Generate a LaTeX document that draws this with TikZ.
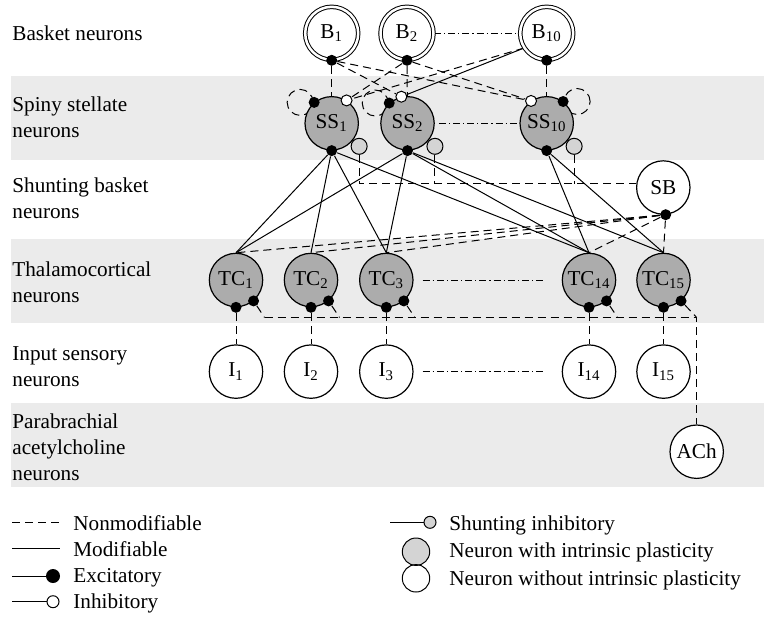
\documentclass[tikz,border=0pt]{standalone}
\usepackage{fontspec}
\setmainfont{Liberation Serif}
\usetikzlibrary{calc}
\pgfdeclarelayer{back}
\pgfdeclarelayer{mid}
\pgfsetlayers{back,mid,main}
\definecolor{bandgray}{RGB}{235,235,235}
\definecolor{cellgray}{RGB}{172,172,172}
\definecolor{shuntgray}{RGB}{212,212,212}
\tikzset{
  neuron/.style={circle,draw,line width=0.6pt,fill=white,minimum size=26.7pt,inner sep=0pt},
  plastic/.style={neuron,fill=cellgray},
  basket/.style={neuron,double,double distance=1.25pt,line width=0.5pt,minimum size=26.5pt},
  exc/.style={circle,fill=black,minimum size=5.5pt,inner sep=0pt},
  inh/.style={circle,draw,fill=white,line width=0.5pt,minimum size=5.5pt,inner sep=0pt},
  shunt/.style={circle,draw,fill=shuntgray,line width=0.5pt,minimum size=8pt,inner sep=0pt},
  nonmod/.style={line width=0.5pt,dash pattern=on 4pt off 2.5pt},
  mod/.style={line width=0.5pt},
  dotdash/.style={line width=0.5pt,dash pattern=on 3.5pt off 1.5pt on 0.6pt off 1.5pt},
  lbl/.style={anchor=base west,align=left,inner sep=0pt},
}

\begin{document}
\begin{tikzpicture}[x=0.5pt,y=-0.5pt,font=\fontsize{10.6}{12.8}\selectfont]
    \useasboundingbox (0,0) rectangle (764,618);
    \begin{pgfonlayer}{back}
    \fill[bandgray] (11,76) rectangle (764,160);
    \fill[bandgray] (11,239) rectangle (764,323);
    \fill[bandgray] (11,403) rectangle (764,487);
    \end{pgfonlayer}

    % row labels (base = last line)
    \node[lbl] (lbB) at (12,40.5) {Basket neurons};
    \node[lbl] (lbSS) at (12,137) {Spiny stellate\\neurons};
    \node[lbl] (lbSB) at (12,218.5) {Shunting basket\\neurons};
    \node[lbl] (lbTC) at (12,302.5) {Thalamocortical\\neurons};
    \node[lbl] (lbI) at (12,386.5) {Input sensory\\neurons};
    \node[lbl] (lbACh) at (12,480) {Parabrachial\\acetylcholine\\neurons};

    % neurons
    \node[basket] (b1) at (331.7,33.3) {B\textsubscript{1}};
    \node[basket] (b2) at (407,33.3) {B\textsubscript{2}};
    \node[basket] (b10) at (546.7,33.3) {B\textsubscript{10}};
    \node[plastic] (ss1) at (331.7,123.3) {SS\textsubscript{1}};
    \node[plastic] (ss2) at (407.5,123.3) {SS\textsubscript{2}};
    \node[plastic] (ss10) at (546.7,123.3) {SS\textsubscript{10}};
    \node[neuron] (sb) at (663.3,187.5) {SB};
    \node[plastic] (tc1) at (236,280) {TC\textsubscript{1}};
    \node[plastic] (tc2) at (311,280) {TC\textsubscript{2}};
    \node[plastic] (tc3) at (386.3,280) {TC\textsubscript{3}};
    \node[plastic] (tc14) at (589,280) {TC\textsubscript{14}};
    \node[plastic] (tc15) at (663.5,280) {TC\textsubscript{15}};
    \node[neuron] (i1) at (236,371.6) {I\textsubscript{1}};
    \node[neuron] (i2) at (311,371.6) {I\textsubscript{2}};
    \node[neuron] (i3) at (386.3,371.6) {I\textsubscript{3}};
    \node[neuron] (i14) at (589,371.6) {I\textsubscript{14}};
    \node[neuron] (i15) at (663.5,371.6) {I\textsubscript{15}};
    \node[neuron] (ach) at (696.7,451.7) {ACh};

    % synapses
    \node[exc] (b1e) at (b1.south) {};
    \node[exc] (b2e) at (b2.south) {};
    \node[exc] (b10e) at (b10.south) {};
    \node[exc] (ss1e) at (ss1.130) {};
    \node[inh] (ss1i) at (ss1.57) {};
    \node[exc] (ss2e) at (ss2.132) {};
    \node[inh] (ss2i) at (ss2.103) {};
    \node[inh] (ss10i) at (ss10.125) {};
    \node[exc] (ss10e) at (ss10.53) {};
    \node[exc] (ss1s) at (ss1.south) {};
    \node[exc] (ss2s) at (ss2.south) {};
    \node[exc] (ss10s) at (ss10.south) {};
    \node[shunt,anchor=140] (ss1g) at (ss1.-40) {};
    \node[shunt,anchor=140] (ss2g) at (ss2.-40) {};
    \node[shunt,anchor=140] (ss10g) at (ss10.-40) {};
    \node[exc] (sbe) at (sb.-85) {};
    \node[exc] (tc1s) at (tc1.south) {};
    \node[exc] (tc1w) at (tc1.-50) {};
    \node[exc] (tc2s) at (tc2.south) {};
    \node[exc] (tc2w) at (tc2.-50) {};
    \node[exc] (tc3s) at (tc3.south) {};
    \node[exc] (tc3w) at (tc3.-50) {};
    \node[exc] (tc14s) at (tc14.south) {};
    \node[exc] (tc14w) at (tc14.-50) {};
    \node[exc] (tc15s) at (tc15.south) {};
    \node[exc] (tc15w) at (tc15.-50) {};

    \begin{pgfonlayer}{mid}
    % basket -> spiny stellate
    \draw[nonmod] (b1e) -- (ss1);
    \draw[nonmod] (b1e) -- (ss2i);
    \draw[nonmod] (b1e) -- (ss10i);
    \draw[nonmod] (b2e) -- (ss1i);
    \draw[nonmod] (b2e) -- (ss2);
    \draw[nonmod] (b2e) -- (ss10i);
    \draw[nonmod] (b10.213) -- (ss1i);
    \draw[mod] (b10.213) -- (ss2i);
    \draw[nonmod] (b10e) -- (ss10);
    \draw[nonmod] ([xshift=-7pt]ss1.130) circle[radius=6.5pt];
    \draw[nonmod] ([xshift=-7pt]ss2.132) circle[radius=6.5pt];
    \draw[nonmod] ([xshift=7pt]ss10.53) circle[radius=6.5pt];
    \draw[dotdash] (b2) -- (b10);
    \draw[dotdash,shorten <=2pt] (ss2) -- (ss10);
    \draw[dotdash,shorten <=4.5pt,shorten >=8.5pt] (tc3) -- (tc14);
    \draw[dotdash,shorten <=4.5pt,shorten >=8.5pt] (i3) -- (i14);
    % spiny stellate -> thalamocortical
    \draw[mod] (ss1s) -- (tc1.north);
    \draw[mod] (ss1s) -- (tc2.north);
    \draw[mod] (ss1s) -- (tc3.north);
    \draw[mod] (ss1s) -- (tc14.north);
    \draw[mod] (ss2s) -- (tc1.north);
    \draw[mod] (ss2s) -- (tc3.north);
    \draw[mod] (ss2s) -- (tc14.north);
    \draw[mod] (ss2s) -- (tc15.north);
    \draw[mod] (ss10s) -- (tc14.north);
    \draw[mod] (ss10s) -- (tc15.north);
    % shunting basket
    \draw[nonmod] (ss1g) |- (sb.172);
    \draw[nonmod] (ss2g) -- (ss2g |- sb.172);
    \draw[nonmod] (ss10g) -- (ss10g |- sb.172);
    \draw[nonmod] (sbe) -- (tc1.north);
    \draw[nonmod] (sbe) -- (tc2.north);
    \draw[nonmod] (sbe) -- (tc3.north);
    \draw[nonmod] (sbe) -- (tc14.north);
    \draw[nonmod] (sbe) -- (tc15.north);
    % input and acetylcholine
    \draw[nonmod] (tc1s) -- (i1);
    \draw[nonmod] (tc2s) -- (i2);
    \draw[nonmod] (tc3s) -- (i3);
    \draw[nonmod] (tc14s) -- (i14);
    \draw[nonmod] (tc15s) -- (i15);
    \coordinate (bus) at (0,317.5);
    \draw[nonmod] ($(tc1w |- bus)+(11,0)$) -| (ach);
    \draw[nonmod] (tc1w) -- ($(tc1w |- bus)+(11,0)$);
    \draw[nonmod] (tc2w) -- ($(tc2w |- bus)+(11,0)$);
    \draw[nonmod] (tc3w) -- ($(tc3w |- bus)+(11,0)$);
    \draw[nonmod] (tc14w) -- ($(tc14w |- bus)+(11,0)$);
    \draw[nonmod] (tc15w) -- (ach |- bus);
    \end{pgfonlayer}

    % legend
    \coordinate (lg1) at (12,522.3);
    \coordinate (lg1e) at (60,522.3);
    \draw[nonmod] (lg1) -- (lg1e);
    \node[lbl] (lgt1) at (73,530) {Nonmodifiable};
    \coordinate (lg2) at (12,548.3);
    \coordinate (lg2e) at (60,548.3);
    \draw[mod] (lg2) -- (lg2e);
    \node[lbl] (lgt2) at (73,556) {Modifiable};
    \coordinate (lg3) at (12,576);
    \node[exc,minimum size=7pt] (lgexc) at (53,576) {};
    \draw[mod] (lg3) -- (lgexc);
    \node[lbl] (lgt3) at (73,582) {Excitatory};
    \coordinate (lg4) at (12,601.7);
    \node[inh,minimum size=6pt] (lginh) at (53,601.7) {};
    \draw[mod] (lg4) -- (lginh);
    \node[lbl] (lgt4) at (73,608.3) {Inhibitory};
    \coordinate (lg5) at (390,522.3);
    \node[shunt,minimum size=6pt] (lgsh) at (430,522.3) {};
    \draw[mod] (lg5) -- (lgsh);
    \node[lbl] (lgt5) at (449,530) {Shunting inhibitory};
    \node[circle,draw,line width=0.5pt,fill=shuntgray,minimum size=13.7pt] (lgip) at (416,551.7) {};
    \node[lbl] (lgt6) at (449,557.7) {Neuron with intrinsic plasticity};
    \node[circle,draw,line width=0.5pt,minimum size=13.7pt] (lgnp) at (416,578.3) {};
    \node[lbl] (lgt7) at (449,585) {Neuron without intrinsic plasticity};
\end{tikzpicture}
\end{document}
